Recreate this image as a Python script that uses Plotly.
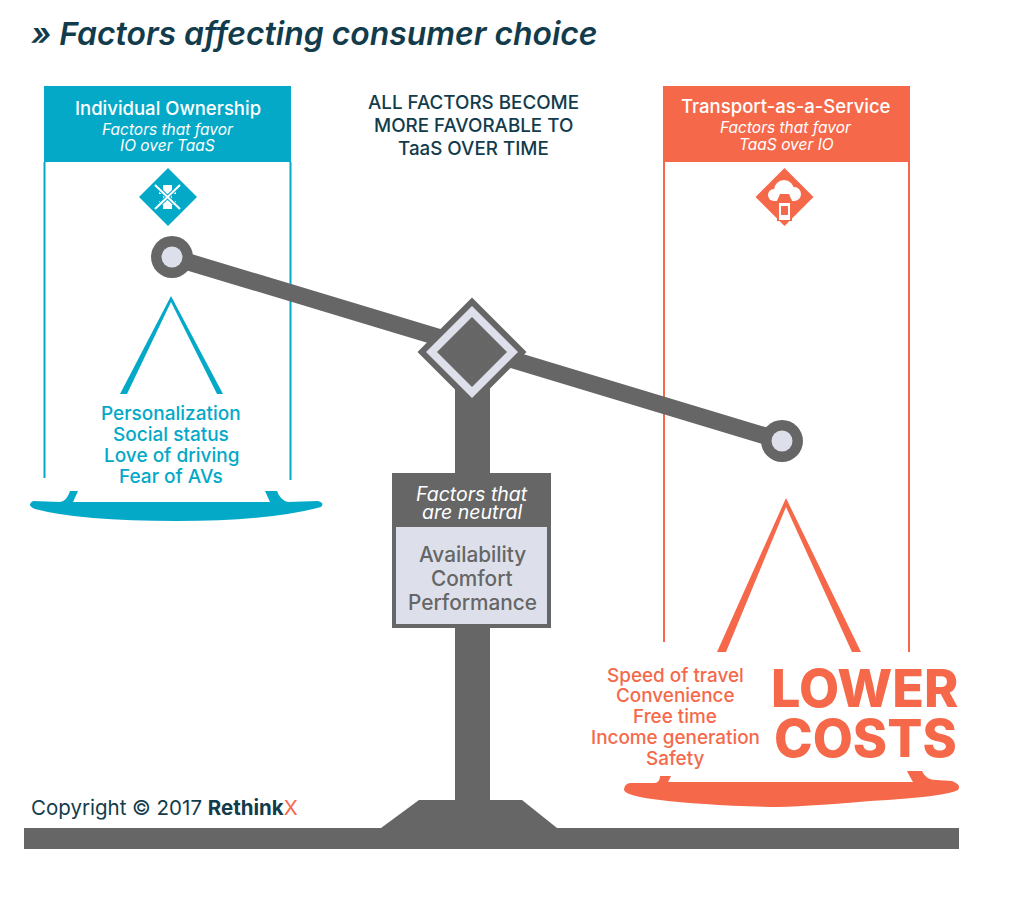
import plotly.graph_objects as go

# Colors
teal = "#04a9c8"
coral = "#f5694a"
gray = "#666666"
light = "#dde0ea"
navy = "#123c4c"

# Text
title_text = "» Factors affecting consumer choice"
center_lines = ["ALL FACTORS BECOME", "MORE FAVORABLE TO", "TaaS OVER TIME"]
left_head = "Individual Ownership"
left_sub = ["Factors that favor", "IO over TaaS"]
right_head = "Transport-as-a-Service"
right_sub = ["Factors that favor", "TaaS over IO"]
left_factors = ["Personalization", "Social status", "Love of driving", "Fear of AVs"]
right_factors = ["Speed of travel", "Convenience", "Free time", "Income generation", "Safety"]
neutral_sub = ["Factors that", "are neutral"]
neutral_factors = ["Availability", "Comfort", "Performance"]
big_lines = ["LOWER", "COSTS"]

# Text rows, pixel y of each line
left_factor_y = [413, 434, 455, 476]
right_factor_y = [675, 695, 716, 737, 758]
neutral_sub_y = [494, 512]
neutral_factor_y = [554, 578, 602]
center_y = [102, 125, 148]
big_y = [688, 738]

# Outlines
beam_x = [172, 782]
beam_y = [257, 441]
left_frame = "M 171 296 L 223 394 L 217 394 L 171 302 L 127 394 L 120 394 Z"
right_frame = "M 786 498 L 861 652 L 852 652 L 786 507 L 726 652 L 717 652 Z"
left_pan = "M 33 501 L 60 502 Q 67 501 70 491 L 78 491 L 73 502 L 270 502 L 265 491 L 277 491 Q 280 500 288 502 L 318 501 Q 325 503 321 507 Q 270 521 177 521 Q 80 521 35 509 Q 26 505 33 501 Z"
right_pan = "M 630 783 L 655 783 Q 660 782 660 776 L 671 776 L 668 782 L 913 782 Q 909 775 907 771 L 922 771 Q 926 780 936 780 L 952 781 Q 962 785 958 790 Q 945 797 870 801 Q 800 807 770 807 Q 700 805 660 800 Q 626 796 624 790 Q 624 784 630 783 Z"
base_path = "M 24 828 L 381 828 L 419 800 L 522 800 L 557 828 L 959 828 L 959 849 L 24 849 Z"


def rect(fig, x0, y0, x1, y1, color):
    fig.add_shape(type="rect", x0=x0, y0=y0, x1=x1, y1=y1, fillcolor=color, line_width=0)


def line(fig, x0, y0, x1, y1, color, width):
    fig.add_shape(type="line", x0=x0, y0=y0, x1=x1, y1=y1, line=dict(color=color, width=width))


def path(fig, d, color):
    fig.add_shape(type="path", path=d, fillcolor=color, line_width=0)


def circle(fig, cx, cy, r, color):
    fig.add_shape(type="circle", x0=cx - r, y0=cy - r, x1=cx + r, y1=cy + r, fillcolor=color, line_width=0)


def diamond(fig, cx, cy, r, color):
    d = f"M {cx} {cy - r} L {cx + r} {cy} L {cx} {cy + r} L {cx - r} {cy} Z"
    path(fig, d, color)


def label(fig, text, x, y, size, color, weight=400, style="normal", anchor="center", family="Inter"):
    fig.add_annotation(
        text=text,
        x=x,
        y=y,
        xref="x",
        yref="y",
        xanchor=anchor,
        yanchor="middle",
        showarrow=False,
        font=dict(family=family, size=size, color=color, weight=weight, style=style),
    )


fig = go.Figure()

# Panels
rect(fig, 44, 86, 291, 162, teal)
line(fig, 44.5, 162, 44.5, 478, teal, 2)
line(fig, 290.5, 162, 290.5, 480, teal, 2)
rect(fig, 663, 86, 910, 162, coral)
line(fig, 664, 162, 664, 642, coral, 2)
line(fig, 909, 162, 909, 652, coral, 2)

# Icons
diamond(fig, 168, 197, 29, teal)
rect(fig, 163, 185, 172, 209, "white")
rect(fig, 159, 190, 176, 194, "white")
rect(fig, 159, 201, 176, 205, "white")
line(fig, 155, 185, 180, 209, teal, 4)
line(fig, 180, 185, 155, 209, teal, 4)
line(fig, 155, 185, 180, 209, "white", 2)
line(fig, 180, 185, 155, 209, "white", 2)

diamond(fig, 784.5, 197, 29, coral)
circle(fig, 784, 190, 10, "white")
circle(fig, 774, 195, 6, "white")
circle(fig, 794, 194, 7, "white")
rect(fig, 775, 193, 794, 201, "white")
path(fig, "M 776 203 L 780 194 L 789 194 L 793 203 Z", coral)
rect(fig, 777, 201, 792, 221, coral)
rect(fig, 779, 203, 790, 220, "white")
rect(fig, 781, 206, 788, 215, coral)

# Hanging frames
path(fig, left_frame, teal)
path(fig, right_frame, coral)

# Pans
path(fig, left_pan, teal)
path(fig, right_pan, coral)

# Stand
path(fig, base_path, gray)
rect(fig, 455, 352, 490, 805, gray)

# Beam and rings
line(fig, beam_x[0], beam_y[0], beam_x[1], beam_y[1], gray, 17)
circle(fig, beam_x[0], beam_y[0], 21, gray)
circle(fig, beam_x[0], beam_y[0], 10.5, light)
circle(fig, beam_x[1], beam_y[1], 21, gray)
circle(fig, beam_x[1], beam_y[1], 10.5, light)

# Pivot
diamond(fig, 472, 352, 54.5, gray)
diamond(fig, 472, 352, 46, light)
diamond(fig, 472, 352, 35, gray)

# Neutral sign
rect(fig, 392, 473, 551, 628, gray)
rect(fig, 396, 527, 547, 624, light)

# Text
label(fig, title_text, 29, 33, 31.9, navy, weight=600, style="italic", anchor="left")
for txt, y in zip(center_lines, center_y):
    label(fig, txt, 473.5, y, 18.8, navy, weight=500)
label(fig, left_head, 167.5, 108, 18.5, "white", weight=500)
label(fig, right_head, 786, 106, 18.5, "white", weight=500)
for txt, y in zip(left_sub, [129, 145]):
    label(fig, txt, 167.5, y, 15.5, "white", style="italic")
for txt, y in zip(right_sub, [127, 144]):
    label(fig, txt, 786, y, 15.5, "white", style="italic")
for txt, y in zip(left_factors, left_factor_y):
    label(fig, txt, 171, y, 19, teal, weight=500)
for txt, y in zip(right_factors, right_factor_y):
    label(fig, txt, 675, y, 18.9, coral, weight=500)
for txt, y in zip(neutral_sub, neutral_sub_y):
    label(fig, txt, 472, y, 19.5, "white", style="italic")
for txt, y in zip(neutral_factors, neutral_factor_y):
    label(fig, txt, 472, y, 20.8, gray, weight=500)
for txt, y in zip(big_lines, big_y):
    label(fig, txt, 865, y, 52, coral, weight=800)
label(
    fig,
    "Copyright © 2017 <b>Rethink</b><span style='color:#f5694a'>X</span>",
    29,
    807,
    20.5,
    navy,
    anchor="left",
)

fig.update_xaxes(visible=False, range=[0, 1026], fixedrange=True)
fig.update_yaxes(visible=False, range=[906, 0], fixedrange=True)
fig.update_layout(
    width=1026,
    height=906,
    margin=dict(l=0, r=0, t=0, b=0),
    paper_bgcolor="white",
    plot_bgcolor="white",
    showlegend=False,
)

fig.write_html(
    "out.html",
    config={"displayModeBar": False},
    post_script="document.body.style.margin='0';document.body.style.overflow='hidden';",
)
